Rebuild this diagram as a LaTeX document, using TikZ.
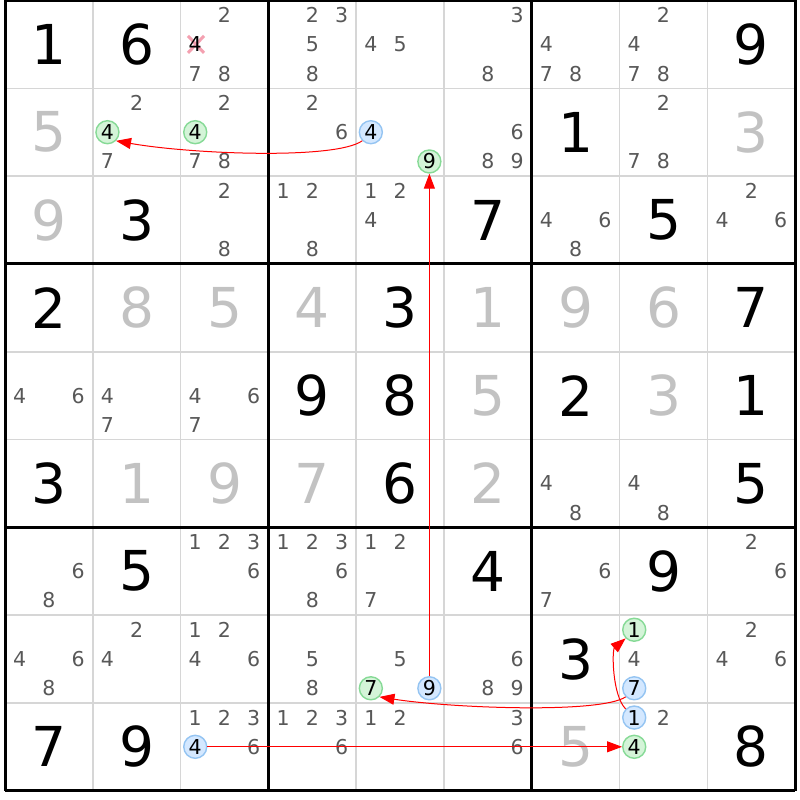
\documentclass[tikz,border=0pt]{standalone}
\usepackage{fontspec}
\setmainfont{DejaVu Sans}
\usetikzlibrary{arrows.meta}
\definecolor{candc}{HTML}{585858}
\definecolor{ghostc}{HTML}{C2C2C2}
\definecolor{thinc}{HTML}{D6D6D6}
\definecolor{gcfill}{HTML}{D4F4D8}
\definecolor{gcdraw}{HTML}{86DA96}
\definecolor{bcfill}{HTML}{D4E8FF}
\definecolor{bcdraw}{HTML}{94C4F2}
\definecolor{xmarkc}{HTML}{F4A0B0}
\newcommand\mycand[4][cand]{%
  \pgfmathsetmacro\cx{5+(#3-1)*87.8+(mod(#4-1,3)+0.5)*29.2667}%
  \pgfmathsetmacro\cy{0.5+(#2-1)*87.8+(floor((#4-1)/3)+0.5)*29.2667}%
  \node[#1] (k#2#3#4) at (\cx,\cy) {#4};}
\newcommand\mygiv[4][givn]{%
  \pgfmathsetmacro\cx{5+(#3-0.5)*87.8}%
  \pgfmathsetmacro\cy{0.5+(#2-0.5)*87.8}%
  \node[#1] (v#2#3) at (\cx,\cy) {#4};}
\begin{document}
\begin{tikzpicture}[x=1pt,y=-1pt,
  cand/.style={font=\fontsize{20.5}{20.5}\selectfont, text=candc, inner sep=0pt},
  strk/.style={cand, text=black},
  gc/.style={circle, draw=gcdraw, fill=gcfill, line width=1.4pt, minimum size=23pt, inner sep=0pt, font=\fontsize{20.5}{20.5}\selectfont, text=black},
  bc/.style={gc, draw=bcdraw, fill=bcfill},
  givn/.style={font=\fontsize{55}{55}\selectfont, inner sep=0pt, text=black},
  ghost/.style={givn, text=ghostc},
  thin/.style={draw=thinc, line width=1.6pt},
  thick/.style={draw=black, line width=3pt},
  xmark/.style={draw=xmarkc, line width=3pt},
  arr/.style={draw=red, line width=1pt, -{Triangle[length=15pt,width=11pt]}}]
\useasboundingbox (0,0) rectangle (800,800);
\fill[white] (0,0) rectangle (800,800);
% grid
\foreach \i in {1,2,4,5,7,8}{
  \draw[thin] ({5+\i*87.8},0.5) -- ({5+\i*87.8},790.7);
  \draw[thin] (5,{0.5+\i*87.8}) -- (795.2,{0.5+\i*87.8});
}
\foreach \i in {0,3,6,9}{
  \draw[thick] ({5+\i*87.8},0.5) -- ({5+\i*87.8},790.7);
  \draw[thick] (5,{0.5+\i*87.8}) -- (795.2,{0.5+\i*87.8});
}
% struck candidate mark
\coordinate (x134) at (196,44.4);
\draw[xmark] ([shift={(-8,-8.5)}]x134) -- ([shift={(8,8.5)}]x134)
             ([shift={(-8,8.5)}]x134) -- ([shift={(8,-8.5)}]x134);
% row 1
\mygiv{1}{1}{1} \mygiv{1}{2}{6}
\mycand{1}{3}{2} \mycand[strk]{1}{3}{4} \mycand{1}{3}{7} \mycand{1}{3}{8}
\mycand{1}{4}{2} \mycand{1}{4}{3} \mycand{1}{4}{5} \mycand{1}{4}{8}
\mycand{1}{5}{4} \mycand{1}{5}{5}
\mycand{1}{6}{3} \mycand{1}{6}{8}
\mycand{1}{7}{4} \mycand{1}{7}{7} \mycand{1}{7}{8}
\mycand{1}{8}{2} \mycand{1}{8}{4} \mycand{1}{8}{7} \mycand{1}{8}{8}
\mygiv{1}{9}{9}
% row 2
\mygiv[ghost]{2}{1}{5}
\mycand{2}{2}{2} \mycand[gc]{2}{2}{4} \mycand{2}{2}{7}
\mycand{2}{3}{2} \mycand[gc]{2}{3}{4} \mycand{2}{3}{7} \mycand{2}{3}{8}
\mycand{2}{4}{2} \mycand{2}{4}{6}
\mycand[bc]{2}{5}{4} \mycand[gc]{2}{5}{9}
\mycand{2}{6}{6} \mycand{2}{6}{8} \mycand{2}{6}{9}
\mygiv{2}{7}{1}
\mycand{2}{8}{2} \mycand{2}{8}{7} \mycand{2}{8}{8}
\mygiv[ghost]{2}{9}{3}
% row 3
\mygiv[ghost]{3}{1}{9} \mygiv{3}{2}{3}
\mycand{3}{3}{2} \mycand{3}{3}{8}
\mycand{3}{4}{1} \mycand{3}{4}{2} \mycand{3}{4}{8}
\mycand{3}{5}{1} \mycand{3}{5}{2} \mycand{3}{5}{4}
\mygiv{3}{6}{7}
\mycand{3}{7}{4} \mycand{3}{7}{6} \mycand{3}{7}{8}
\mygiv{3}{8}{5}
\mycand{3}{9}{2} \mycand{3}{9}{4} \mycand{3}{9}{6}
% row 4
\mygiv{4}{1}{2} \mygiv[ghost]{4}{2}{8} \mygiv[ghost]{4}{3}{5}
\mygiv[ghost]{4}{4}{4} \mygiv{4}{5}{3} \mygiv[ghost]{4}{6}{1}
\mygiv[ghost]{4}{7}{9} \mygiv[ghost]{4}{8}{6} \mygiv{4}{9}{7}
% row 5
\mycand{5}{1}{4} \mycand{5}{1}{6}
\mycand{5}{2}{4} \mycand{5}{2}{7}
\mycand{5}{3}{4} \mycand{5}{3}{6} \mycand{5}{3}{7}
\mygiv{5}{4}{9} \mygiv{5}{5}{8} \mygiv[ghost]{5}{6}{5}
\mygiv{5}{7}{2} \mygiv[ghost]{5}{8}{3} \mygiv{5}{9}{1}
% row 6
\mygiv{6}{1}{3} \mygiv[ghost]{6}{2}{1} \mygiv[ghost]{6}{3}{9}
\mygiv[ghost]{6}{4}{7} \mygiv{6}{5}{6} \mygiv[ghost]{6}{6}{2}
\mycand{6}{7}{4} \mycand{6}{7}{8}
\mycand{6}{8}{4} \mycand{6}{8}{8}
\mygiv{6}{9}{5}
% row 7
\mycand{7}{1}{6} \mycand{7}{1}{8}
\mygiv{7}{2}{5}
\mycand{7}{3}{1} \mycand{7}{3}{2} \mycand{7}{3}{3} \mycand{7}{3}{6}
\mycand{7}{4}{1} \mycand{7}{4}{2} \mycand{7}{4}{3} \mycand{7}{4}{6} \mycand{7}{4}{8}
\mycand{7}{5}{1} \mycand{7}{5}{2} \mycand{7}{5}{7}
\mygiv{7}{6}{4}
\mycand{7}{7}{6} \mycand{7}{7}{7}
\mygiv{7}{8}{9}
\mycand{7}{9}{2} \mycand{7}{9}{6}
% row 8
\mycand{8}{1}{4} \mycand{8}{1}{6} \mycand{8}{1}{8}
\mycand{8}{2}{2} \mycand{8}{2}{4}
\mycand{8}{3}{1} \mycand{8}{3}{2} \mycand{8}{3}{4} \mycand{8}{3}{6}
\mycand{8}{4}{5} \mycand{8}{4}{8}
\mycand{8}{5}{5} \mycand[gc]{8}{5}{7} \mycand[bc]{8}{5}{9}
\mycand{8}{6}{6} \mycand{8}{6}{8} \mycand{8}{6}{9}
\mygiv{8}{7}{3}
\mycand[gc]{8}{8}{1} \mycand{8}{8}{4} \mycand[bc]{8}{8}{7}
\mycand{8}{9}{2} \mycand{8}{9}{4} \mycand{8}{9}{6}
% row 9
\mygiv{9}{1}{7} \mygiv{9}{2}{9}
\mycand{9}{3}{1} \mycand{9}{3}{2} \mycand{9}{3}{3} \mycand[bc]{9}{3}{4} \mycand{9}{3}{6}
\mycand{9}{4}{1} \mycand{9}{4}{2} \mycand{9}{4}{3} \mycand{9}{4}{6}
\mycand{9}{5}{1} \mycand{9}{5}{2}
\mycand{9}{6}{3} \mycand{9}{6}{6}
\mygiv[ghost]{9}{7}{5}
\mycand[bc]{9}{8}{1} \mycand{9}{8}{2} \mycand[gc]{9}{8}{4}
\mygiv{9}{9}{8}
% arrows
\draw[arr] (k254.225) .. controls (335,160) and (190,154) .. (k224.-45);
\draw[arr] (k859) -- (k259);
\draw[arr] (k887.225) .. controls (600,714) and (450,708) .. (k857.-45);
\draw[arr] (k981.135) .. controls (612,695) and (612,650) .. (k881.225);
\draw[arr] (k934) -- (k984);
\end{tikzpicture}
\end{document}
